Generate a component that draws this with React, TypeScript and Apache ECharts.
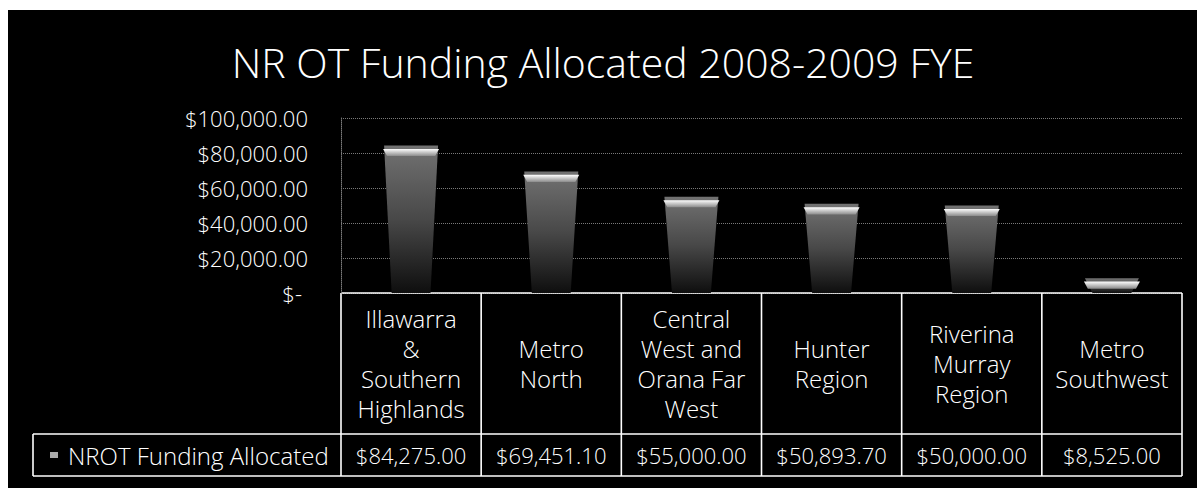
import React, { useEffect, useRef } from "react";
import * as echarts from "echarts";

const titleText = "NR OT Funding Allocated 2008-2009 FYE";
const seriesName = "NROT Funding Allocated";
const categories = [
  "Illawarra\n&\nSouthern\nHighlands",
  "Metro\nNorth",
  "Central\nWest and\nOrana Far\nWest",
  "Hunter\nRegion",
  "Riverina\nMurray\nRegion",
  "Metro\nSouthwest",
];
const values = [84275.0, 69451.1, 55000.0, 50893.7, 50000.0, 8525.0];
const yMin = 0;
const yMax = 100000;
const yInterval = 20000;

const FONT = "'Open Sans', 'Noto Sans', sans-serif";
const W = 350;

const fmt = (v: number) =>
  "$" + v.toLocaleString("en-US", { minimumFractionDigits: 2, maximumFractionDigits: 2 });

export default function App() {
  const ref = useRef<HTMLDivElement>(null);
  useEffect(() => {
    if (!ref.current) return;
    const chart = echarts.init(ref.current, null, { renderer: "svg" });
    chart.setOption({
      animation: false,
      backgroundColor: "#000",
      grid: { left: 333, right: 15, top: 108, bottom: 195 },
      xAxis: {
        type: "category",
        data: categories,
        axisLine: { show: false },
        axisTick: { show: false },
        axisLabel: { show: false },
      },
      yAxis: {
        type: "value",
        min: yMin,
        max: yMax,
        interval: yInterval,
        axisLine: { show: true, lineStyle: { color: "#7a7a7a", type: "dotted", width: 1 } },
        axisTick: { show: false },
        splitLine: { show: true, lineStyle: { color: "#7a7a7a", type: "dotted", width: 1 } },
        axisLabel: {
          color: "#fff",
          fontFamily: FONT,
          fontWeight: W,
          fontSize: 22,
          margin: 33,
          formatter: (v: number) => (v === 0 ? "{z|$-}" : fmt(v)),
          rich: { z: { color: "#fff", fontFamily: FONT, fontWeight: W, fontSize: 22, padding: [0, 6, 0, 0] } },
        },
      },
      series: [
        {
          name: seriesName,
          type: "pictorialBar",
          data: values,
          symbol: "path://M0,0 L100,0 L86,100 L14,100 Z",
          symbolSize: [54, "100%"],
          symbolPosition: "start",
          z: 2,
          itemStyle: {
            color: new echarts.graphic.LinearGradient(0, 0, 0, 1, [
              { offset: 0, color: "#727272" },
              { offset: 0.5, color: "#484848" },
              { offset: 1, color: "#0e0e0e" },
            ]),
          },
        },
        {
          name: seriesName + " top",
          type: "pictorialBar",
          data: values,
          symbol: "path://M0,0 L100,0 L93,100 L7,100 Z",
          symbolSize: [56, 7],
          symbolPosition: "end",
          symbolOffset: [0, "50%"],
          z: 3,
          itemStyle: {
            color: new echarts.graphic.LinearGradient(0, 0, 0, 1, [
              { offset: 0, color: "#ffffff" },
              { offset: 1, color: "#8a8a8a" },
            ]),
          },
        },
      ],
    });

    const xs = categories.map((_, i) => chart.convertToPixel({ xAxisIndex: 0 }, i) as number);
    const band = xs[1] - xs[0];
    const yBase = chart.convertToPixel({ yAxisIndex: 0 }, 0) as number;
    const tLeft = xs[0] - band / 2;
    const tRight = xs[xs.length - 1] + band / 2;
    const headerH = 141;
    const rowH = 42;
    const legendLeft = 25;
    const yRow = yBase + headerH;
    const yEnd = yRow + rowH;
    const stroke = { stroke: "#fff", lineWidth: 1.6 };
    const labelFont = `${W} 24px ${FONT}`;
    const numFont = `${W} 22px ${FONT}`;
    const g: any[] = [];
    g.push({
      type: "text",
      x: 595,
      y: 52,
      style: {
        text: titleText,
        fill: "#fff",
        font: `${W} 41px ${FONT}`,
        align: "center",
        verticalAlign: "middle",
      },
    });
    g.push({ type: "line", shape: { x1: tLeft, y1: yBase, x2: tRight, y2: yBase }, style: stroke });
    g.push({ type: "line", shape: { x1: legendLeft, y1: yRow, x2: tRight, y2: yRow }, style: stroke });
    g.push({ type: "line", shape: { x1: legendLeft, y1: yEnd, x2: tRight, y2: yEnd }, style: stroke });
    g.push({ type: "line", shape: { x1: legendLeft, y1: yRow, x2: legendLeft, y2: yEnd }, style: stroke });
    for (let i = 0; i <= categories.length; i++) {
      const x = tLeft + band * i;
      g.push({ type: "line", shape: { x1: x, y1: yBase, x2: x, y2: yEnd }, style: stroke });
    }
    categories.forEach((c, i) => {
      g.push({
        type: "text",
        x: xs[i],
        y: yBase + headerH / 2,
        style: {
          text: c,
          fill: "#fff",
          font: labelFont,
          lineHeight: 30,
          align: "center",
          verticalAlign: "middle",
        },
      });
      g.push({
        type: "text",
        x: xs[i],
        y: yRow + rowH / 2,
        style: {
          text: fmt(values[i]),
          fill: "#fff",
          font: numFont,
          align: "center",
          verticalAlign: "middle",
        },
      });
    });
    g.push({
      type: "rect",
      shape: { x: legendLeft + 17, y: yRow + rowH / 2 - 3, width: 8, height: 6 },
      style: { fill: "#aaa" },
    });
    g.push({
      type: "text",
      x: legendLeft + 35,
      y: yRow + rowH / 2,
      style: {
        text: seriesName,
        fill: "#fff",
        font: labelFont,
        align: "left",
        verticalAlign: "middle",
      },
    });
    chart.setOption({ graphic: g });

    return () => chart.dispose();
  }, []);
  return (
    <div style={{ position: "fixed", left: 0, top: 0, width: 1197, height: 488, background: "#fff" }}>
      <div
        ref={ref}
        style={{ position: "absolute", left: 8, top: 10, width: 1189, height: 478 }}
      />
    </div>
  );
}
